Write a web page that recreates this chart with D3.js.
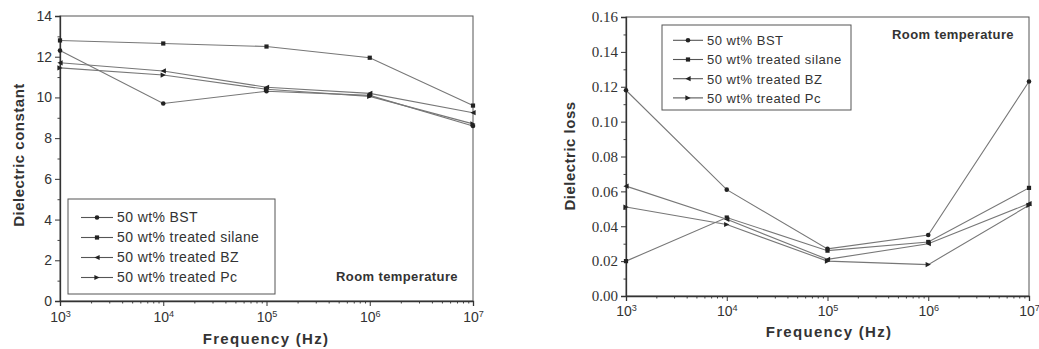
<!DOCTYPE html>
<html>
<head>
<meta charset="utf-8">
<script src="https://cdn.jsdelivr.net/npm/d3@7"></script>
<style>
  html, body { margin: 0; padding: 0; background: #fff; }
  svg { display: block; }
  text { fill: #333; }
</style>
</head>
<body>
<svg id="chart" width="1039" height="349"></svg>
<script>
// Frequencies (Hz) shared by both panels
const frequencies = [1e3, 1e4, 1e5, 1e6, 1e7];
const seriesNames = ["50 wt% BST", "50 wt% treated silane", "50 wt% treated BZ", "50 wt% treated Pc"];
const markerKinds = ["circle", "square", "triLeft", "triRight"];

// Dielectric constant per series
const constBST    = [12.3, 9.7, 10.3, 10.1, 8.6];
const constSilane = [12.8, 12.65, 12.5, 11.95, 9.6];
const constBZ     = [11.7, 11.3, 10.5, 10.2, 9.25];
const constPc     = [11.45, 11.1, 10.4, 10.05, 8.7];

// Dielectric loss per series
const lossBST    = [0.118, 0.061, 0.027, 0.035, 0.123];
const lossSilane = [0.020, 0.045, 0.026, 0.031, 0.062];
const lossBZ     = [0.063, 0.044, 0.021, 0.030, 0.053];
const lossPc     = [0.051, 0.041, 0.020, 0.018, 0.052];

const constTicks = [0, 2, 4, 6, 8, 10, 12, 14];
const lossTicks = [0.00, 0.02, 0.04, 0.06, 0.08, 0.10, 0.12, 0.14, 0.16];
const freqTicks = [1e3, 1e4, 1e5, 1e6, 1e7];

const svg = d3.select("#chart");
const SANS = "Liberation Sans, Arial, sans-serif";

function marker(g, kind, x, y) {
  const s = 2.6;
  if (kind === "circle") {
    g.append("circle").attr("cx", x).attr("cy", y).attr("r", 2.3).attr("fill", "#222");
  } else if (kind === "square") {
    g.append("rect").attr("x", x - 2.1).attr("y", y - 2.1).attr("width", 4.2).attr("height", 4.2).attr("fill", "#222");
  } else if (kind === "triLeft") {
    g.append("path").attr("d", `M${x - s},${y}L${x + s},${y - s}L${x + s},${y + s}Z`).attr("fill", "#222");
  } else {
    g.append("path").attr("d", `M${x + s},${y}L${x - s},${y - s}L${x - s},${y + s}Z`).attr("fill", "#222");
  }
}

function superscriptLabels(sel) {
  sel.selectAll(".tick text").each(function(d) {
    const t = d3.select(this);
    const e = Math.round(Math.log10(d));
    t.text(null);
    t.append("tspan").text("10");
    t.append("tspan").attr("dy", "-0.55em").attr("font-size", "0.65em").text(e);
  });
}

function panel(opt) {
  const x = d3.scaleLog().domain([1e3, 1e7]).range([opt.x0, opt.x1]);
  const y = d3.scaleLinear().domain(opt.yDomain).range([opt.y1, opt.y0]);
  const g = svg.append("g");

  // frame
  g.append("rect").attr("x", opt.x0).attr("y", opt.y0)
    .attr("width", opt.x1 - opt.x0).attr("height", opt.y1 - opt.y0)
    .attr("fill", "none").attr("stroke", "#555").attr("stroke-width", 1);

  // minor y ticks
  const yMinor = [];
  for (let i = 0; i < opt.yTicks.length - 1; i++) {
    const a = opt.yTicks[i], b = opt.yTicks[i + 1];
    yMinor.push((a + b) / 2);
  }
  g.append("g").attr("transform", `translate(${opt.x0},0)`)
    .call(d3.axisLeft(y).tickValues(yMinor).tickSize(2.5).tickFormat(""))
    .call(a => a.select(".domain").remove())
    .selectAll("line").attr("stroke", "#444");

  // major y axis
  const ya = g.append("g").attr("transform", `translate(${opt.x0},0)`)
    .call(d3.axisLeft(y).tickValues(opt.yTicks).tickSize(5).tickPadding(3).tickFormat(opt.yFormat));
  ya.select(".domain").attr("stroke", "#333").attr("stroke-width", 1.3);
  ya.selectAll("line").attr("stroke", "#333");
  ya.selectAll("text").attr("font-family", opt.yFont).attr("font-size", opt.yFontSize).attr("fill", "#555");

  // minor log ticks on x axis
  const xMinor = [];
  for (let d = 1e3; d < 1e7; d *= 10) for (let k = 2; k <= 9; k++) xMinor.push(d * k);
  g.append("g").attr("transform", `translate(0,${opt.y1})`)
    .call(d3.axisBottom(x).tickValues(xMinor).tickSize(2.5).tickFormat(""))
    .call(a => a.select(".domain").remove())
    .selectAll("line").attr("stroke", "#444");

  const xa = g.append("g").attr("transform", `translate(0,${opt.y1})`)
    .call(d3.axisBottom(x).tickValues(freqTicks).tickSize(5).tickPadding(opt.xPad));
  xa.select(".domain").attr("stroke", "#333").attr("stroke-width", 1.3);
  xa.selectAll("line").attr("stroke", "#333");
  xa.selectAll("text").attr("font-family", SANS).attr("font-size", 14).attr("fill", "#555");
  superscriptLabels(xa);

  // series lines and markers
  opt.series.forEach((vals, i) => {
    const pts = frequencies.map((f, j) => [x(f), y(vals[j])]);
    g.append("path").attr("d", d3.line()(pts))
      .attr("fill", "none").attr("stroke", "#777").attr("stroke-width", 1.1);
    const mg = g.append("g");
    pts.forEach(p => marker(mg, markerKinds[i], p[0], p[1]));
  });

  // legend
  const lg = g.append("g");
  lg.append("rect").attr("x", opt.leg.x).attr("y", opt.leg.y)
    .attr("width", opt.leg.w).attr("height", opt.leg.h)
    .attr("fill", "#fff").attr("stroke", "#555").attr("stroke-width", 1);
  seriesNames.forEach((name, i) => {
    const ly = opt.leg.y + opt.leg.top + i * opt.leg.step;
    const lx = opt.leg.x + opt.leg.pad;
    lg.append("line").attr("x1", lx).attr("x2", lx + opt.leg.sym)
      .attr("y1", ly).attr("y2", ly).attr("stroke", "#555").attr("stroke-width", 1.1);
    marker(lg, markerKinds[i], lx + opt.leg.sym / 2, ly);
    lg.append("text").attr("x", lx + opt.leg.sym + 4).attr("y", ly + 4.8)
      .attr("font-family", SANS).attr("letter-spacing", opt.leg.ls)
      .attr("font-size", opt.leg.font).attr("fill", "#3a3a3a").text(name);
  });

  // annotation
  g.append("text").attr("x", opt.note.x).attr("y", opt.note.y)
    .attr("font-family", SANS).attr("font-weight", "bold").attr("letter-spacing", 0.4)
    .attr("font-size", 13).attr("fill", "#444").text("Room temperature");

  // axis titles
  g.append("text").attr("x", opt.xTitle.x).attr("y", opt.xTitle.y).attr("text-anchor", "middle")
    .attr("font-family", SANS).attr("font-weight", "bold")
    .attr("font-size", 15).attr("letter-spacing", 1.3).attr("fill", "#333").text("Frequency (Hz)");
  g.append("text").attr("transform", `translate(${opt.yTitle.x},${opt.yTitle.y}) rotate(-90)`)
    .attr("text-anchor", "middle")
    .attr("font-family", SANS).attr("font-weight", "bold")
    .attr("font-size", 15).attr("letter-spacing", 0.5).attr("fill", "#333").text(opt.yTitle.text);
}

panel({
  x0: 60, x1: 473, y0: 16, y1: 301,
  yDomain: [0, 14], yTicks: constTicks, yFormat: d3.format("d"),
  yFont: SANS, yFontSize: 14, xPad: 6,
  series: [constBST, constSilane, constBZ, constPc],
  leg: { x: 68, y: 199, w: 207, h: 95, top: 18.5, step: 20, pad: 13, sym: 32, font: 14, ls: 0.4 },
  note: { x: 336, y: 281 },
  xTitle: { x: 266, y: 344 },
  yTitle: { x: 24, y: 155, text: "Dielectric constant" }
});

panel({
  x0: 626, x1: 1029, y0: 17, y1: 296,
  yDomain: [0, 0.16], yTicks: lossTicks, yFormat: d3.format(".2f"),
  yFont: "Liberation Serif, Times New Roman, serif", yFontSize: 15, xPad: 5,
  series: [lossBST, lossSilane, lossBZ, lossPc],
  leg: { x: 662, y: 25, w: 189, h: 85, top: 15.3, step: 19.2, pad: 11, sym: 30, font: 13, ls: 0.5 },
  note: { x: 892, y: 39 },
  xTitle: { x: 829, y: 337 },
  yTitle: { x: 575, y: 156, text: "Dielectric loss" }
});
</script>
</body>
</html>
